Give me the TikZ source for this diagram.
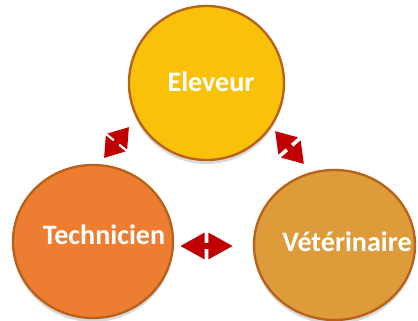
\documentclass[tikz,border=0pt]{standalone}
\usepackage{fontspec}
\setmainfont{Carlito}
\usetikzlibrary{positioning, arrows.meta, shapes.geometric, shadows}
\definecolor{eleveurfill}{HTML}{F9C10A}
\definecolor{technfill}{HTML}{ED7D31}
\definecolor{vetofill}{HTML}{DE9B3A}
\definecolor{rim}{HTML}{B8621B}
\definecolor{linkred}{HTML}{C00000}

\begin{document}
\begin{tikzpicture}[x=0.03cm, y=-0.03cm,
    font=\fontsize{24}{28}\selectfont\bfseries,
    bubble/.style={ellipse, draw=rim, line width=0.07cm, inner sep=0pt,
      drop shadow={opacity=0.3, shadow xshift=0cm, shadow yshift=-0.12cm}},
    actorlabel/.style={text=white},
    twoway/.style n args={3}{draw=linkred, line width=#3,
      {Triangle[width=#1, length=#2]}-{Triangle[width=#1, length=#2]}}]
  \useasboundingbox (0,0) rectangle (418,321);
  % les trois acteurs
  \node[bubble, fill=eleveurfill, minimum width=4.65cm, minimum height=4.62cm,
        label={[actorlabel, xshift=0.135cm, yshift=0.03cm]center:Eleveur}]
        (eleveur) at (206.5,83) {};
  \node[bubble, fill=technfill, minimum width=4.8cm, minimum height=4.59cm,
        label={[actorlabel, xshift=0.33cm, yshift=0.195cm]center:Technicien}]
        (technicien) at (93,241.5) {};
  \node[bubble, fill=vetofill, minimum width=4.83cm, minimum height=4.5cm,
        label={[actorlabel, xshift=0.375cm, yshift=0.09cm]center:V\'et\'erinaire}]
        (veterinaire) at (334.5,245) {};
  % echanges dans les deux sens
  \coordinate (te) at (104,158);
  \coordinate (et) at (129,127);
  \coordinate (ev) at (275,131);
  \coordinate (ve) at (304,164);
  \coordinate (tv) at (180,246);
  \coordinate (vt) at (233,246);
  \draw[twoway={0.72cm}{0.56cm}{0.2cm}] (te) -- (et);
  \draw[twoway={0.74cm}{0.6cm}{0.2cm}] (ev) -- (ve);
  \draw[twoway={0.75cm}{0.74cm}{0.18cm}] (tv) -- (vt);
\end{tikzpicture}
\end{document}
